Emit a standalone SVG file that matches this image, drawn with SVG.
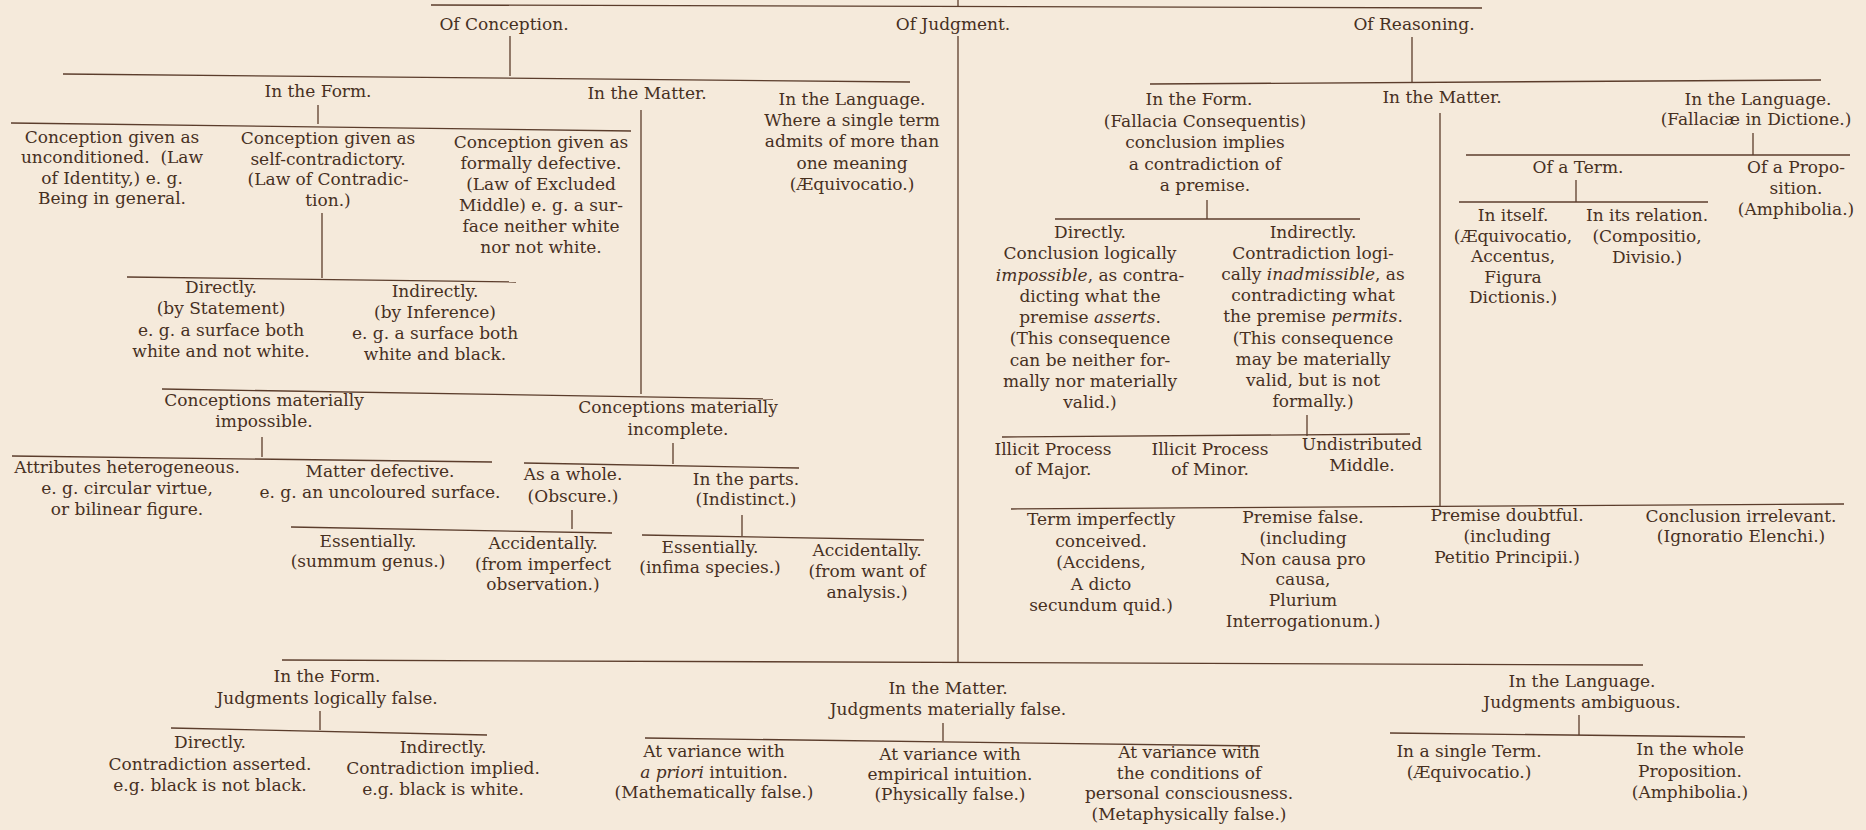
<svg xmlns="http://www.w3.org/2000/svg" width="1866" height="830" viewBox="0 0 1866 830">
<style>
.t{font-family:"DejaVu Serif","Liberation Serif",serif;font-size:17px;fill:#47301f;text-anchor:middle}
.i{font-style:italic}
#connectors line{stroke:#5b3d2c;stroke-width:1.3;fill:none}
</style>
<rect width="1866" height="830" fill="#f5eadb"/>
<g id="connectors">
<line x1="958" y1="0" x2="958" y2="7"/>
<line x1="431" y1="5" x2="1482" y2="8"/>
<line x1="510" y1="36" x2="510" y2="76"/>
<line x1="63" y1="74" x2="910" y2="82"/>
<line x1="958" y1="36" x2="958" y2="663"/>
<line x1="1412" y1="37" x2="1412" y2="82"/>
<line x1="1150" y1="84" x2="1821" y2="80"/>
<line x1="318" y1="105" x2="318" y2="124"/>
<line x1="11" y1="123" x2="631" y2="131"/>
<line x1="641" y1="110" x2="641" y2="394"/>
<line x1="322" y1="213" x2="322" y2="278"/>
<line x1="127" y1="277" x2="516" y2="282"/>
<line x1="162" y1="389" x2="773" y2="399"/>
<line x1="262" y1="437" x2="262" y2="457"/>
<line x1="12" y1="456" x2="492" y2="462"/>
<line x1="673" y1="443" x2="673" y2="464"/>
<line x1="524" y1="463" x2="799" y2="468"/>
<line x1="572" y1="510" x2="572" y2="529"/>
<line x1="291" y1="527" x2="612" y2="533"/>
<line x1="742" y1="515" x2="742" y2="536"/>
<line x1="642" y1="535" x2="924" y2="540"/>
<line x1="282" y1="660" x2="1643" y2="665"/>
<line x1="320" y1="711" x2="320" y2="730"/>
<line x1="171" y1="728" x2="487" y2="735"/>
<line x1="943" y1="723" x2="943" y2="741"/>
<line x1="645" y1="738" x2="1260" y2="746"/>
<line x1="1579" y1="715" x2="1579" y2="735"/>
<line x1="1390" y1="733" x2="1745" y2="737"/>
<line x1="1207" y1="200" x2="1207" y2="219"/>
<line x1="1055" y1="219" x2="1360" y2="219"/>
<line x1="1307" y1="415" x2="1307" y2="436"/>
<line x1="1002" y1="437" x2="1410" y2="434"/>
<line x1="1440" y1="113" x2="1440" y2="506"/>
<line x1="1011" y1="509" x2="1844" y2="504"/>
<line x1="1753" y1="133" x2="1753" y2="155"/>
<line x1="1466" y1="155" x2="1850" y2="155"/>
<line x1="1576" y1="180" x2="1576" y2="202"/>
<line x1="1459" y1="202" x2="1708" y2="202"/>
</g>
<g id="of-conception"><text class="t" x="504" y="30">Of Conception.</text></g>
<g id="of-judgment"><text class="t" x="953" y="30">Of Judgment.</text></g>
<g id="of-reasoning"><text class="t" x="1414" y="30">Of Reasoning.</text></g>

<g id="c-form"><text class="t" x="318" y="97">In the Form.</text></g>
<g id="c-matter"><text class="t" x="647" y="99">In the Matter.</text></g>
<g id="c-language"><text class="t" y="105"><tspan x="852">In the Language.</tspan><tspan x="852" dy="21.2">Where a single term</tspan><tspan x="852" dy="21.2">admits of more than</tspan><tspan x="852" dy="21.2">one meaning</tspan><tspan x="852" dy="21.2">(Æquivocatio.)</tspan></text></g>
<g id="c-identity"><text class="t" y="143"><tspan x="112">Conception given as</tspan><tspan x="112" dy="20.3">unconditioned.&#160; (Law</tspan><tspan x="112" dy="20.3">of Identity,) e. g.</tspan><tspan x="112" dy="20.3">Being in general.</tspan></text></g>
<g id="c-contradiction"><text class="t" y="144"><tspan x="328">Conception given as</tspan><tspan x="328" dy="20.7">self-contradictory.</tspan><tspan x="328" dy="20.7">(Law of Contradic-</tspan><tspan x="328" dy="20.7">tion.)</tspan></text></g>
<g id="c-excluded"><text class="t" y="148"><tspan x="541">Conception given as</tspan><tspan x="541" dy="20.9">formally defective.</tspan><tspan x="541" dy="20.9">(Law of Excluded</tspan><tspan x="541" dy="20.9">Middle) e. g. a sur-</tspan><tspan x="541" dy="20.9">face neither white</tspan><tspan x="541" dy="20.9">nor not white.</tspan></text></g>
<g id="c-directly"><text class="t" y="293"><tspan x="221">Directly.</tspan><tspan x="221" dy="21.3">(by Statement)</tspan><tspan x="221" dy="21.3">e. g. a surface both</tspan><tspan x="221" dy="21.3">white and not white.</tspan></text></g>
<g id="c-indirectly"><text class="t" y="297"><tspan x="435">Indirectly.</tspan><tspan x="435" dy="21">(by Inference)</tspan><tspan x="435" dy="21">e. g. a surface both</tspan><tspan x="435" dy="21">white and black.</tspan></text></g>
<g id="c-impossible"><text class="t" y="406"><tspan x="264">Conceptions materially</tspan><tspan x="264" dy="21">impossible.</tspan></text></g>
<g id="c-incomplete"><text class="t" y="413"><tspan x="678">Conceptions materially</tspan><tspan x="678" dy="22">incomplete.</tspan></text></g>
<g id="c-heterogeneous"><text class="t" y="473"><tspan x="127">Attributes heterogeneous.</tspan><tspan x="127" dy="21">e. g. circular virtue,</tspan><tspan x="127" dy="21">or bilinear figure.</tspan></text></g>
<g id="c-defective"><text class="t" y="477"><tspan x="380">Matter defective.</tspan><tspan x="380" dy="21">e. g. an uncoloured surface.</tspan></text></g>
<g id="c-whole"><text class="t" y="480"><tspan x="573">As a whole.</tspan><tspan x="573" dy="22">(Obscure.)</tspan></text></g>
<g id="c-parts"><text class="t" y="485"><tspan x="746">In the parts.</tspan><tspan x="746" dy="20">(Indistinct.)</tspan></text></g>
<g id="c-whole-ess"><text class="t" y="547"><tspan x="368">Essentially.</tspan><tspan x="368" dy="20">(summum genus.)</tspan></text></g>
<g id="c-whole-acc"><text class="t" y="549"><tspan x="543">Accidentally.</tspan><tspan x="543" dy="20.5">(from imperfect</tspan><tspan x="543" dy="20.5">observation.)</tspan></text></g>
<g id="c-parts-ess"><text class="t" y="553"><tspan x="710">Essentially.</tspan><tspan x="710" dy="20">(infima species.)</tspan></text></g>
<g id="c-parts-acc"><text class="t" y="556"><tspan x="867">Accidentally.</tspan><tspan x="867" dy="21">(from want of</tspan><tspan x="867" dy="21">analysis.)</tspan></text></g>

<g id="j-form"><text class="t" y="682"><tspan x="327">In the Form.</tspan><tspan x="327" dy="22">Judgments logically false.</tspan></text></g>
<g id="j-form-direct"><text class="t" y="748"><tspan x="210">Directly.</tspan><tspan x="210" dy="21.5">Contradiction asserted.</tspan><tspan x="210" dy="21.5">e.g. black is not black.</tspan></text></g>
<g id="j-form-indirect"><text class="t" y="753"><tspan x="443">Indirectly.</tspan><tspan x="443" dy="21">Contradiction implied.</tspan><tspan x="443" dy="21">e.g. black is white.</tspan></text></g>
<g id="j-matter"><text class="t" y="694"><tspan x="948">In the Matter.</tspan><tspan x="948" dy="21">Judgments materially false.</tspan></text></g>
<g id="j-matter-1"><text class="t" y="757"><tspan x="714">At variance with</tspan><tspan x="714" dy="20.5"><tspan class="i">a priori</tspan> intuition.</tspan><tspan x="714" dy="20.5">(Mathematically false.)</tspan></text></g>
<g id="j-matter-2"><text class="t" y="760"><tspan x="950">At variance with</tspan><tspan x="950" dy="20">empirical intuition.</tspan><tspan x="950" dy="20">(Physically false.)</tspan></text></g>
<g id="j-matter-3"><text class="t" y="758"><tspan x="1189">At variance with</tspan><tspan x="1189" dy="20.7">the conditions of</tspan><tspan x="1189" dy="20.7">personal consciousness.</tspan><tspan x="1189" dy="20.7">(Metaphysically false.)</tspan></text></g>
<g id="j-language"><text class="t" y="687"><tspan x="1582">In the Language.</tspan><tspan x="1582" dy="21">Judgments ambiguous.</tspan></text></g>
<g id="j-lang-term"><text class="t" y="757"><tspan x="1469">In a single Term.</tspan><tspan x="1469" dy="21">(Æquivocatio.)</tspan></text></g>
<g id="j-lang-prop"><text class="t" y="755"><tspan x="1690">In the whole</tspan><tspan x="1690" dy="21.5">Proposition.</tspan><tspan x="1690" dy="21.5">(Amphibolia.)</tspan></text></g>

<g id="r-form"><text class="t" y="105"><tspan x="1199">In the Form.</tspan><tspan x="1205" dy="21.5">(Fallacia Consequentis)</tspan><tspan x="1205" dy="21.5">conclusion implies</tspan><tspan x="1205" dy="21.5">a contradiction of</tspan><tspan x="1205" dy="21.5">a premise.</tspan></text></g>
<g id="r-form-direct"><text class="t" y="238"><tspan x="1090">Directly.</tspan><tspan x="1090" dy="21.25">Conclusion logically</tspan><tspan x="1090" dy="21.25"><tspan class="i">impossible</tspan>, as contra-</tspan><tspan x="1090" dy="21.25">dicting what the</tspan><tspan x="1090" dy="21.25">premise <tspan class="i">asserts</tspan>.</tspan><tspan x="1090" dy="21.25">(This consequence</tspan><tspan x="1090" dy="21.25">can be neither for-</tspan><tspan x="1090" dy="21.25">mally nor materially</tspan><tspan x="1090" dy="21.25">valid.)</tspan></text></g>
<g id="r-form-indirect"><text class="t" y="238"><tspan x="1313">Indirectly.</tspan><tspan x="1313" dy="21.1">Contradiction logi-</tspan><tspan x="1313" dy="21.1">cally <tspan class="i">inadmissible</tspan>, as</tspan><tspan x="1313" dy="21.1">contradicting what</tspan><tspan x="1313" dy="21.1">the premise <tspan class="i">permits</tspan>.</tspan><tspan x="1313" dy="21.1">(This consequence</tspan><tspan x="1313" dy="21.1">may be materially</tspan><tspan x="1313" dy="21.1">valid, but is not</tspan><tspan x="1313" dy="21.1">formally.)</tspan></text></g>
<g id="r-major"><text class="t" y="455"><tspan x="1053">Illicit Process</tspan><tspan x="1053" dy="20">of Major.</tspan></text></g>
<g id="r-minor"><text class="t" y="455"><tspan x="1210">Illicit Process</tspan><tspan x="1210" dy="20">of Minor.</tspan></text></g>
<g id="r-middle"><text class="t" y="450"><tspan x="1362">Undistributed</tspan><tspan x="1362" dy="21">Middle.</tspan></text></g>
<g id="r-matter"><text class="t" x="1442" y="103">In the Matter.</text></g>
<g id="r-matter-term"><text class="t" y="525"><tspan x="1101">Term imperfectly</tspan><tspan x="1101" dy="21.5">conceived.</tspan><tspan x="1101" dy="21.5">(Accidens,</tspan><tspan x="1101" dy="21.5">A dicto</tspan><tspan x="1101" dy="21.5">secundum quid.)</tspan></text></g>
<g id="r-matter-false"><text class="t" y="523"><tspan x="1303">Premise false.</tspan><tspan x="1303" dy="20.8">(including</tspan><tspan x="1303" dy="20.8">Non causa pro</tspan><tspan x="1303" dy="20.8">causa,</tspan><tspan x="1303" dy="20.8">Plurium</tspan><tspan x="1303" dy="20.8">Interrogationum.)</tspan></text></g>
<g id="r-matter-doubtful"><text class="t" y="521"><tspan x="1507">Premise doubtful.</tspan><tspan x="1507" dy="21">(including</tspan><tspan x="1507" dy="21">Petitio Principii.)</tspan></text></g>
<g id="r-matter-irrelevant"><text class="t" y="522"><tspan x="1741">Conclusion irrelevant.</tspan><tspan x="1741" dy="20">(Ignoratio Elenchi.)</tspan></text></g>
<g id="r-language"><text class="t" y="105"><tspan x="1758">In the Language.</tspan><tspan x="1756" dy="20">(Fallaciæ in Dictione.)</tspan></text></g>
<g id="r-lang-term"><text class="t" x="1578" y="173">Of a Term.</text></g>
<g id="r-lang-prop"><text class="t" y="173"><tspan x="1796">Of a Propo-</tspan><tspan x="1796" dy="21">sition.</tspan><tspan x="1796" dy="21">(Amphibolia.)</tspan></text></g>
<g id="r-term-itself"><text class="t" y="221"><tspan x="1513">In itself.</tspan><tspan x="1513" dy="20.5">(Æquivocatio,</tspan><tspan x="1513" dy="20.5">Accentus,</tspan><tspan x="1513" dy="20.5">Figura</tspan><tspan x="1513" dy="20.5">Dictionis.)</tspan></text></g>
<g id="r-term-relation"><text class="t" y="221"><tspan x="1647">In its relation.</tspan><tspan x="1647" dy="21">(Compositio,</tspan><tspan x="1647" dy="21">Divisio.)</tspan></text></g>
</svg>
